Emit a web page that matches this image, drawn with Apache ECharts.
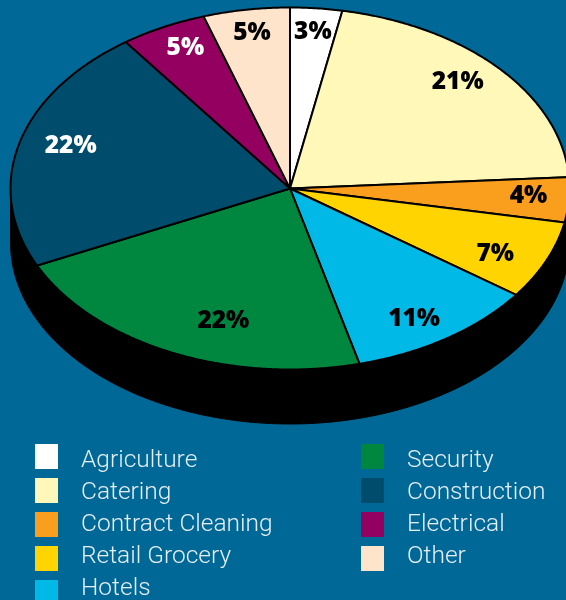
<!DOCTYPE html>
<html>
<head>
<meta charset="utf-8">
<title>Sector breakdown</title>
<style>
  html, body { margin: 0; padding: 0; background: #006896; overflow: hidden; }
  #chart { width: 566px; height: 600px; }
</style>
<script src="https://cdn.jsdelivr.net/npm/echarts@6/dist/echarts.min.js"></script>
</head>
<body>
<div id="chart"></div>
<script>
// Share of workforce by sector, percent, clockwise from twelve o'clock
const categories = ['Agriculture', 'Catering', 'Contract Cleaning', 'Retail Grocery', 'Hotels',
                    'Security', 'Construction', 'Electrical', 'Other'];
const shares = [3, 21, 4, 7, 11, 22, 22, 5, 5];

const sliceColors = ['#ffffff', '#fff8b9', '#fa9e1d', '#ffd400', '#00b9e6',
                     '#00873f', '#004c6c', '#93005f', '#ffe4cc'];
const labelColors = ['#000', '#000', '#000', '#000', '#000', '#000', '#fff', '#fff', '#000'];

// Where each label sits along its slice's mid-angle, as fractions of the two radii
const labelReachX = [0.87, 0.80, 0.855, 0.80, 0.79, 0.56, 0.81, 0.825, 0.87];
const labelReachY = [0.875, 0.90, 0.5, 0.89, 0.865, 0.80, 0.98, 0.88, 0.877];

// Tilted disc geometry
const disc = { cx: 290, cy: 188.5, rx: 279.5, ry: 181, depth: 54.5 };
const total = shares.reduce((a, b) => a + b, 0);

function rimPoint(deg, dy) {
  const t = deg * Math.PI / 180;
  return [disc.cx + disc.rx * Math.sin(t), disc.cy - disc.ry * Math.cos(t) + (dy || 0)];
}

function arc(from, to, dy) {
  const pts = [];
  const n = Math.max(2, Math.ceil(Math.abs(to - from) * 2));
  for (let i = 0; i <= n; i++) pts.push(rimPoint(from + (to - from) * i / n, dy));
  return pts;
}

function sliceSeries(name, index) {
  const before = shares.slice(0, index).reduce((a, b) => a + b, 0);
  return {
    type: 'custom',
    name: name,
    coordinateSystem: 'none',
    silent: true,
    z: 3,
    itemStyle: { color: sliceColors[index] },
    data: [[shares[index]]],
    renderItem: function (params, api) {
      const value = api.value(0);
      const start = before / total * 360;
      const end = (before + value) / total * 360;
      const mid = (start + end) / 2 * Math.PI / 180;
      return {
        type: 'group',
        children: [{
          type: 'polygon',
          shape: { points: [[disc.cx, disc.cy]].concat(arc(start, end)) },
          style: { fill: sliceColors[index], stroke: '#000', lineWidth: 2, lineJoin: 'round' }
        }, {
          type: 'text',
          z2: 50,
          style: {
            x: disc.cx + disc.rx * labelReachX[index] * Math.sin(mid),
            y: disc.cy + 1.5 - disc.ry * labelReachY[index] * Math.cos(mid),
            text: value + '%',
            align: 'center',
            verticalAlign: 'middle',
            fill: labelColors[index],
            font: '800 24.5px "Open Sans", sans-serif'
          }
        }]
      };
    }
  };
}

// The black wall below the front half of the disc
const wallSeries = {
  type: 'custom',
  name: 'wall',
  coordinateSystem: 'none',
  silent: true,
  z: 2,
  data: [[0]],
  renderItem: function () {
    return {
      type: 'polygon',
      shape: { points: arc(90, 270, 0).concat(arc(270, 90, disc.depth)) },
      style: { fill: '#000', stroke: '#000', lineWidth: 1 }
    };
  }
};

// Swatches and their captions run on different row pitches, so each column is two legends
function swatchColumn(names, left) {
  return {
    orient: 'vertical',
    left: left,
    top: 444,
    height: 190,
    padding: 0,
    itemWidth: 23,
    itemHeight: 25,
    itemGap: 9,
    selectedMode: false,
    icon: 'rect',
    data: names,
    itemStyle: { borderWidth: 0 },
    formatter: function () { return ''; }
  };
}

function captionColumn(names, left) {
  return {
    orient: 'vertical',
    left: left,
    top: 448,
    height: 190,
    padding: 0,
    itemWidth: 23,
    itemHeight: 25,
    itemGap: 7,
    selectedMode: false,
    icon: 'none',
    data: names,
    textStyle: {
      color: '#e4eef3',
      fontFamily: 'Roboto, sans-serif',
      fontWeight: 300,
      fontSize: 24.5,
      padding: [0, 0, 0, 18]
    }
  };
}

const leftNames = categories.slice(0, 5);
const rightNames = categories.slice(5);

const chart = echarts.init(document.getElementById('chart'), null, { renderer: 'canvas' });
chart.setOption({
  backgroundColor: '#006896',
  animation: false,
  legend: [
    swatchColumn(leftNames, 35), captionColumn(leftNames, 35),
    swatchColumn(rightNames, 361), captionColumn(rightNames, 361)
  ],
  series: [wallSeries].concat(categories.map(sliceSeries))
});
</script>
</body>
</html>
